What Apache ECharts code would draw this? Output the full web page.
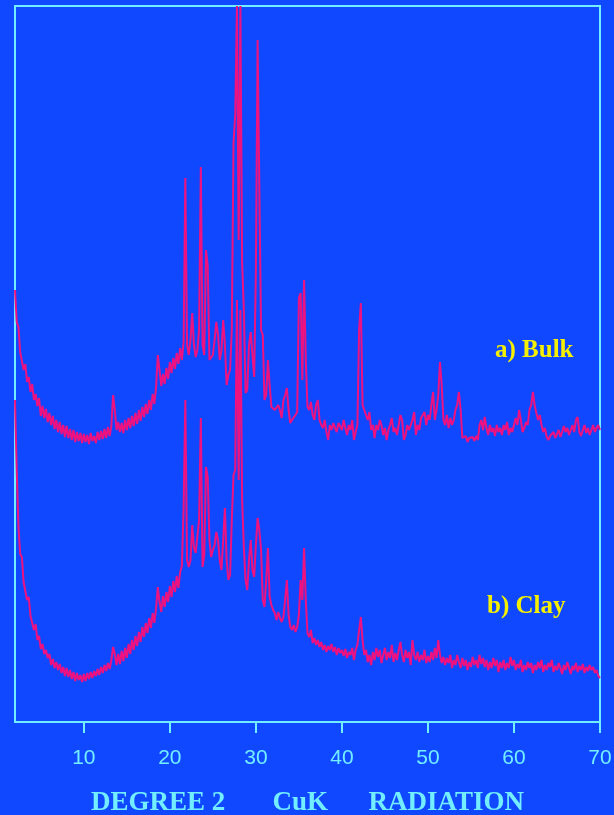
<!DOCTYPE html>
<html>
<head>
<meta charset="utf-8">
<script src="https://cdn.jsdelivr.net/npm/echarts@6/dist/echarts.min.js"></script>
<style>
html,body{margin:0;padding:0;background:#1048FF;}
#chart{width:614px;height:815px;}
</style>
</head>
<body>
<div id="chart"></div>
<script>
// 2-theta scan grid (degrees), 0.2 degree step from 2 to 70
const thetaStart = 2, thetaStep = 0.2, thetaCount = 341;
const twoTheta = Array.from({length: thetaCount}, (_, i) => +(thetaStart + i * thetaStep).toFixed(1));

// a) Bulk intensities (arbitrary units, offset trace)
const bulk = [
432,400,395,370,368,352,358,340,345,330,
338,322,328,316,324,306,316,304,313,300,
309,297,306,293,302,290,300,288,297,285,
296,284,293,282,292,280,290,281,289,279,
288,280,287,278,289,281,286,279,290,282,
291,283,293,284,295,286,296,327,312,292,
300,290,299,289,302,292,304,294,306,296,
309,298,312,301,315,305,318,308,322,312,
328,318,335,367,352,336,348,338,354,343,
360,349,364,353,369,358,374,362,380,544,
377,367,382,409,377,365,372,392,555,377,
367,472,457,362,362,367,382,400,387,362,
372,402,377,337,347,352,392,579,607,716,
482,716,459,412,329,332,377,390,367,345,
450,682,535,392,387,322,327,362,337,315,
317,312,310,317,312,304,322,327,334,312,
299,302,304,307,310,424,429,342,442,362,
315,312,320,307,302,317,322,302,297,294,
302,290,282,297,292,299,294,290,299,297,
292,302,294,287,297,292,302,282,290,297,
392,419,317,312,314,302,310,292,297,284,
297,292,302,297,287,294,282,292,297,304,
290,294,287,297,307,302,282,287,297,292,
294,302,310,287,297,292,304,302,310,297,
307,302,317,330,302,312,327,360,337,302,
297,307,294,304,297,302,312,317,330,312,
284,282,286,280,284,282,285,281,286,282,
297,302,292,305,294,287,297,290,294,286,
297,290,294,287,297,292,300,287,294,290,
297,304,297,312,302,290,294,300,297,312,
317,330,317,309,302,307,297,290,294,285,
282,286,284,290,284,286,292,285,290,296,
290,294,287,292,297,290,302,305,290,286,
292,297,289,294,287,292,297,290,294,297,
292
];

// b) Clay intensities (arbitrary units)
const clay = [
322,252,195,168,165,140,140,122,125,106,
108,92,98,82,86,73,78,68,72,64,
68,57,63,54,60,52,58,49,55,46,
54,45,52,43,50,41,49,42,47,40,
48,41,49,43,50,44,51,46,53,47,
55,49,57,51,59,53,62,75,68,57,
68,58,71,61,74,64,78,68,82,72,
86,76,90,80,95,85,99,89,104,94,
109,99,114,135,120,110,126,115,130,120,
136,125,141,130,146,134,150,156,215,322,
162,155,162,197,174,169,167,202,304,155,
167,255,245,182,165,172,177,190,182,162,
152,182,214,162,142,147,202,247,252,422,
242,412,222,175,142,132,162,182,152,145,
177,204,192,172,122,115,142,174,125,117,
112,109,102,110,104,100,105,122,142,107,
95,92,97,90,95,107,142,122,174,122,
89,85,92,79,84,77,82,75,80,72,
77,70,76,72,78,70,75,67,74,69,
72,66,73,64,70,67,74,62,72,77,
92,105,82,67,72,60,67,57,70,62,
74,65,72,59,67,74,62,70,64,77,
60,69,62,72,80,67,60,72,64,70,
57,82,67,62,70,60,67,62,72,59,
66,60,70,62,74,64,82,67,59,65,
57,64,59,67,54,62,57,67,60,54,
64,56,62,52,60,55,65,57,62,54,
67,58,64,55,62,52,60,54,64,56,
62,50,60,54,62,52,59,54,65,56,
62,52,58,54,62,50,57,52,60,54,
59,49,57,52,60,54,62,50,57,52,
59,55,62,50,56,52,59,54,48,57,
52,60,54,48,56,52,59,50,56,52,
58,49,55,51,57,52,55,49,52,46,
44
];

const xTicks = [10, 20, 30, 40, 50, 60, 70];
const xTitle = 'DEGREE 2       CuK      RADIATION';
const labelBulk = 'a) Bulk';
const labelClay = 'b) Clay';

const CYAN = '#72EEFF';
const PINK = '#EE1280';
const YELLOW = '#F4F000';

const chart = echarts.init(document.getElementById('chart'), null, {renderer: 'canvas'});
chart.setOption({
  animation: false,
  backgroundColor: '#1048FF',
  grid: {
    left: 15, right: 14, top: 6, bottom: 93,
    outerBoundsMode: 'none', containLabel: false,
    show: true, borderColor: CYAN, borderWidth: 2, backgroundColor: 'transparent'
  },
  xAxis: {
    type: 'value', min: 2, max: 70,
    axisLine: {show: true, lineStyle: {color: CYAN, width: 2}},
    axisTick: {show: true, customValues: xTicks, length: 11, lineStyle: {color: CYAN, width: 2}},
    axisLabel: {show: true, customValues: xTicks, color: CYAN, fontFamily: 'Liberation Sans', fontSize: 21, margin: 26},
    splitLine: {show: false},
    name: xTitle,
    nameLocation: 'middle',
    nameGap: 68,
    nameTextStyle: {color: CYAN, fontFamily: 'Liberation Serif', fontWeight: 'bold', fontSize: 27}
  },
  yAxis: {
    type: 'value', min: 0, max: 716,
    axisLine: {show: false}, axisTick: {show: false}, axisLabel: {show: false}, splitLine: {show: false}
  },
  series: [
    {name: labelBulk, type: 'line', showSymbol: false, symbol: 'none',
     lineStyle: {color: PINK, width: 2}, itemStyle: {color: PINK},
     data: twoTheta.map((t, i) => [t, bulk[i]])},
    {name: labelClay, type: 'line', showSymbol: false, symbol: 'none',
     lineStyle: {color: PINK, width: 2}, itemStyle: {color: PINK},
     data: twoTheta.map((t, i) => [t, clay[i]])}
  ],
  graphic: [
    {type: 'text', x: 495, y: 351, style: {text: labelBulk, fill: YELLOW, font: 'bold 25px "Liberation Serif"', verticalAlign: 'middle'}},
    {type: 'text', x: 487, y: 607, style: {text: labelClay, fill: YELLOW, font: 'bold 25px "Liberation Serif"', verticalAlign: 'middle'}}
  ]
});
</script>
</body>
</html>
